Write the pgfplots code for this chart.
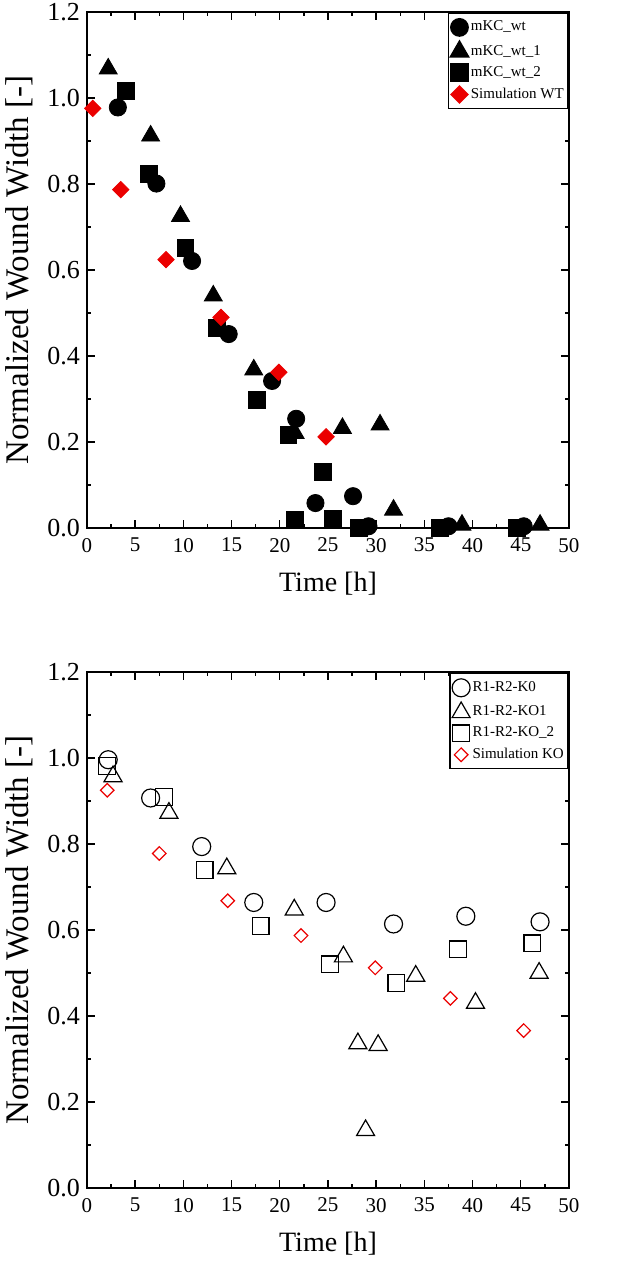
\documentclass[border=0pt]{standalone}
\usepackage{pgfplots}
\pgfplotsset{compat=1.18}
\usepackage{fontspec}
\setmainfont{Liberation Serif}
\definecolor{simred}{RGB}{235,0,0}
\pgfplotsset{
  myax/.style={
    scale only axis, width=241pt, height=258pt, anchor=south west,
    xmin=0, xmax=50, ymin=0, ymax=1.2,
    xtick={0,5,...,50}, ytick={0,0.2,...,1.2},
    minor x tick num=1, minor y tick num=1,
    tick align=inside,
    major tick length=4pt, minor tick length=2.2pt,
    every tick/.style={black, line width=0.7pt},
    axis line style={line width=0.8pt},
    /pgf/number format/assume math mode=true,
    yticklabel style={/pgf/number format/.cd, fixed, fixed zerofill, precision=1, /tikz/.cd, font=\fontsize{13}{15}\selectfont},
    xticklabel style={font=\fontsize{10.5}{12}\selectfont, yshift=-1.5pt},
    xlabel={Time [h]}, ylabel={Normalized Wound Width [-]},
    xlabel style={font=\fontsize{14}{16}\selectfont, at={(axis description cs:0.5,-0.107)}, anchor=center},
    ylabel style={font=\fontsize{16.5}{18}\selectfont, at={(axis description cs:-0.14,0.5)}, anchor=center},
    legend image code/.code={\draw[mark repeat=2,mark phase=2] plot coordinates {(0pt,0pt) (3.5pt,0pt) (7pt,0pt)};},
    legend style={at={(1,1)}, anchor=north east, draw=black, line width=0.8pt,
      font=\fontsize{7.5}{9}\selectfont, cells={anchor=west}, row sep=2.6pt,
      inner xsep=1pt, inner ysep=3pt,
      nodes={inner xsep=1.2pt, inner ysep=0.5pt}},
    legend cell align=left,
  }
}
\begin{document}
\begin{tikzpicture}
\useasboundingbox (0,0) rectangle (310.5pt,633pt);
\begin{axis}[myax, at={(43.5pt,369pt)}]
\addplot[only marks, mark=*, mark size=4.3pt, black] coordinates {
(3.2,0.978) (7.2,0.801) (10.9,0.621) (14.7,0.451) (19.2,0.342) (21.7,0.254)
(23.7,0.058) (27.6,0.074) (29.2,0.004) (37.5,0.004) (45.3,0.004)};
\addlegendentry{mKC\_wt}
\addplot[only marks, mark=triangle*, mark size=5.2pt, black] coordinates {
(2.2,1.068) (6.6,0.912) (9.7,0.725) (13.1,0.54) (17.3,0.368) (21.6,0.22)
(26.5,0.232) (30.4,0.24) (31.8,0.042) (38.9,0.007) (47.0,0.007)};
\addlegendentry{mKC\_wt\_1}
\addplot[only marks, mark=square*, mark size=4.2pt, black] coordinates {
(4.0,1.017) (6.4,0.823) (10.2,0.652) (13.5,0.465) (17.6,0.298) (20.9,0.216)
(24.5,0.131) (21.6,0.019) (25.5,0.022) (28.2,0.0) (36.6,0.0) (44.6,0.0)};
\addlegendentry{mKC\_wt\_2}
\addplot[only marks, mark=square*, mark size=2.9pt, mark options={rotate=45, draw=simred, fill=simred}] coordinates {
(0.6,0.976) (3.5,0.787) (8.2,0.624) (13.9,0.49) (19.9,0.362) (24.8,0.212)};
\addlegendentry{Simulation WT}
\end{axis}
\begin{axis}[myax, at={(43.5pt,39pt)}]
\addplot[only marks, mark=o, mark size=4.5pt, black, mark options={line width=0.6pt}] coordinates {
(2.2,0.996) (6.6,0.907) (11.9,0.794) (17.3,0.664) (24.8,0.664) (31.8,0.614) (39.3,0.632) (47.0,0.619)};
\addlegendentry{R1-R2-K0}
\addplot[only marks, mark=triangle, mark size=5.2pt, black, mark options={line width=0.6pt}] coordinates {
(2.7,0.957) (8.5,0.872) (14.5,0.743) (21.5,0.647) (26.6,0.538) (28.1,0.336) (28.9,0.134)
(30.2,0.332) (34.1,0.493) (40.3,0.43) (46.9,0.50)};
\addlegendentry{R1-R2-KO1}
\addplot[only marks, mark=square, mark size=4.2pt, black, mark options={line width=0.6pt}] coordinates {
(2.1,0.982) (8.0,0.909) (12.2,0.739) (18.0,0.609) (25.2,0.52) (32.1,0.477) (38.5,0.555) (46.2,0.569)};
\addlegendentry{R1-R2-KO\_2}
\addplot[only marks, mark=square, mark size=2.4pt, mark options={rotate=45, draw=simred, line width=0.6pt}] coordinates {
(2.1,0.925) (7.5,0.778) (14.6,0.668) (22.2,0.587) (29.9,0.512) (37.7,0.441) (45.3,0.366)};
\addlegendentry{Simulation KO}
\end{axis}
\end{tikzpicture}
\end{document}
